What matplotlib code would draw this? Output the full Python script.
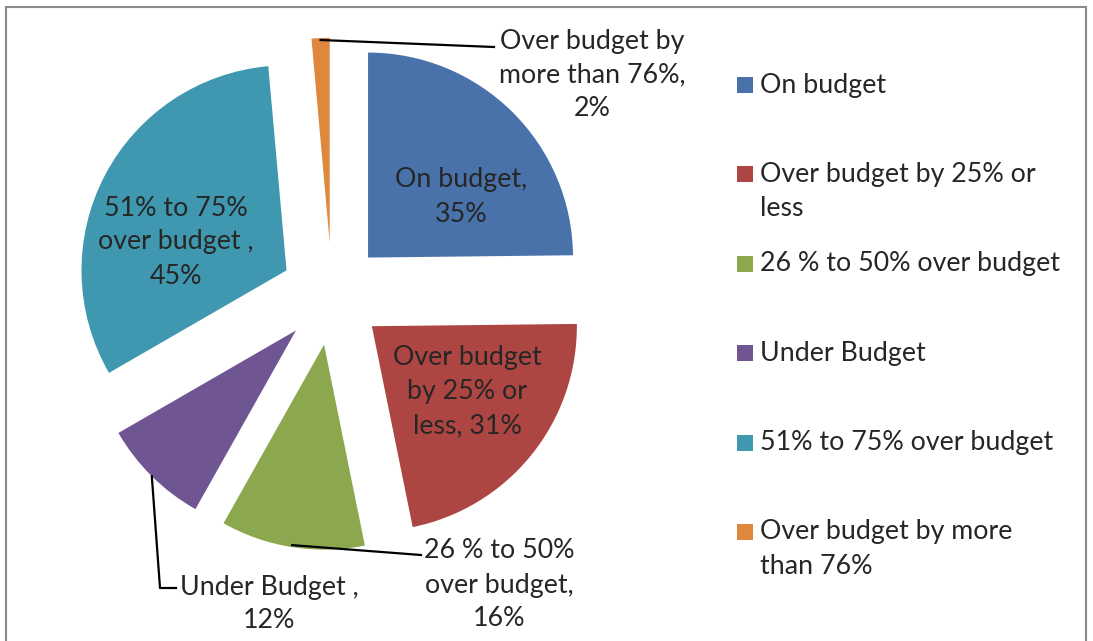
import numpy as np
import matplotlib
matplotlib.use("Agg")
import matplotlib.pyplot as plt
from matplotlib.patches import Rectangle

# Budget outcome shares (as printed on the chart, they do not sum to 100)
categories = ['On budget', 'Over budget by 25% or less', '26 % to 50% over budget',
              'Under Budget', '51% to 75% over budget', 'Over budget by more than 76%']
values = [35, 31, 16, 12, 45, 2]
slice_labels = ['On budget,\n35%', 'Over budget\nby 25% or\nless, 31%',
                '26 % to 50%\nover budget,\n16%', 'Under Budget ,\n12%',
                '51% to 75%\nover budget ,\n45%', 'Over budget by\nmore than 76%,\n2%']
legend_labels = ['On budget', 'Over budget by 25% or\nless', '26 % to 50% over budget',
                 'Under Budget', '51% to 75% over budget', 'Over budget by more\nthan 76%']
colors = ['#4A72AA', '#AD4542', '#8CA84F', '#6F5592', '#4098B0', '#DF873C']

W, H = 1093, 641
FONT = 'Lato'
TXT = '#262626'
FS = 19.3
PITCH = 34
RADIUS = 205


def py(y):
    # pixel row (top = 0) -> data y
    return H - y


def multiline(ax, x, y_first, text, ha='center'):
    for k, line in enumerate(text.split('\n')):
        ax.text(x, py(y_first + k * PITCH), line, ha=ha, va='center',
                fontsize=FS, family=FONT, color=TXT)


fig = plt.figure(figsize=(W / 100, H / 100), dpi=100)
ax = fig.add_axes([0, 0, 1, 1])

# explode is given in data units, so scale it by the radius
wedges, _ = ax.pie(values, colors=colors, startangle=90, counterclock=False,
                   explode=[0.25 * RADIUS] * len(values), center=(332, py(294)),
                   radius=RADIUS, wedgeprops=dict(linewidth=0))
ax.set_xlim(0, W)
ax.set_ylim(0, H)
ax.set_aspect('equal')
ax.axis('off')

# data labels: (x centre, y of first line) in pixels
label_pos = [(461, 180), (467, 358), (499, 551), (269, 587), (176, 208), (592, 41)]
for lab, (x, y) in zip(slice_labels, label_pos):
    multiline(ax, x, y, lab)


def arc_mid(w):
    a = np.deg2rad((w.theta1 + w.theta2) / 2)
    return w.center[0] + w.r * np.cos(a), w.center[1] + w.r * np.sin(a)


# leader lines for the small slices
x0, y0 = arc_mid(wedges[5])
ax.plot([x0, 494], [y0 - 2, py(47)], color='black', lw=1.6)
x0, y0 = arc_mid(wedges[2])
ax.plot([x0, 421], [y0 + 2, py(555)], color='black', lw=1.6)
x0, y0 = arc_mid(wedges[3])
ax.plot([x0, 160, 176], [y0, py(588), py(588)], color='black', lw=1.6)

# legend, one marker per first line
for i, (lab, c) in enumerate(zip(legend_labels, colors)):
    yc = 85 + i * 89.4
    ax.scatter([744.5], [py(yc)], marker='s', s=125, color=c, linewidths=0)
    multiline(ax, 760, yc, lab, ha='left')

# outer frame
ax.add_patch(Rectangle((6, -10), 1080, py(7) + 10, fill=False,
                       edgecolor='#8a8a8a', lw=1.5))

fig.savefig('out.png', dpi=100)
